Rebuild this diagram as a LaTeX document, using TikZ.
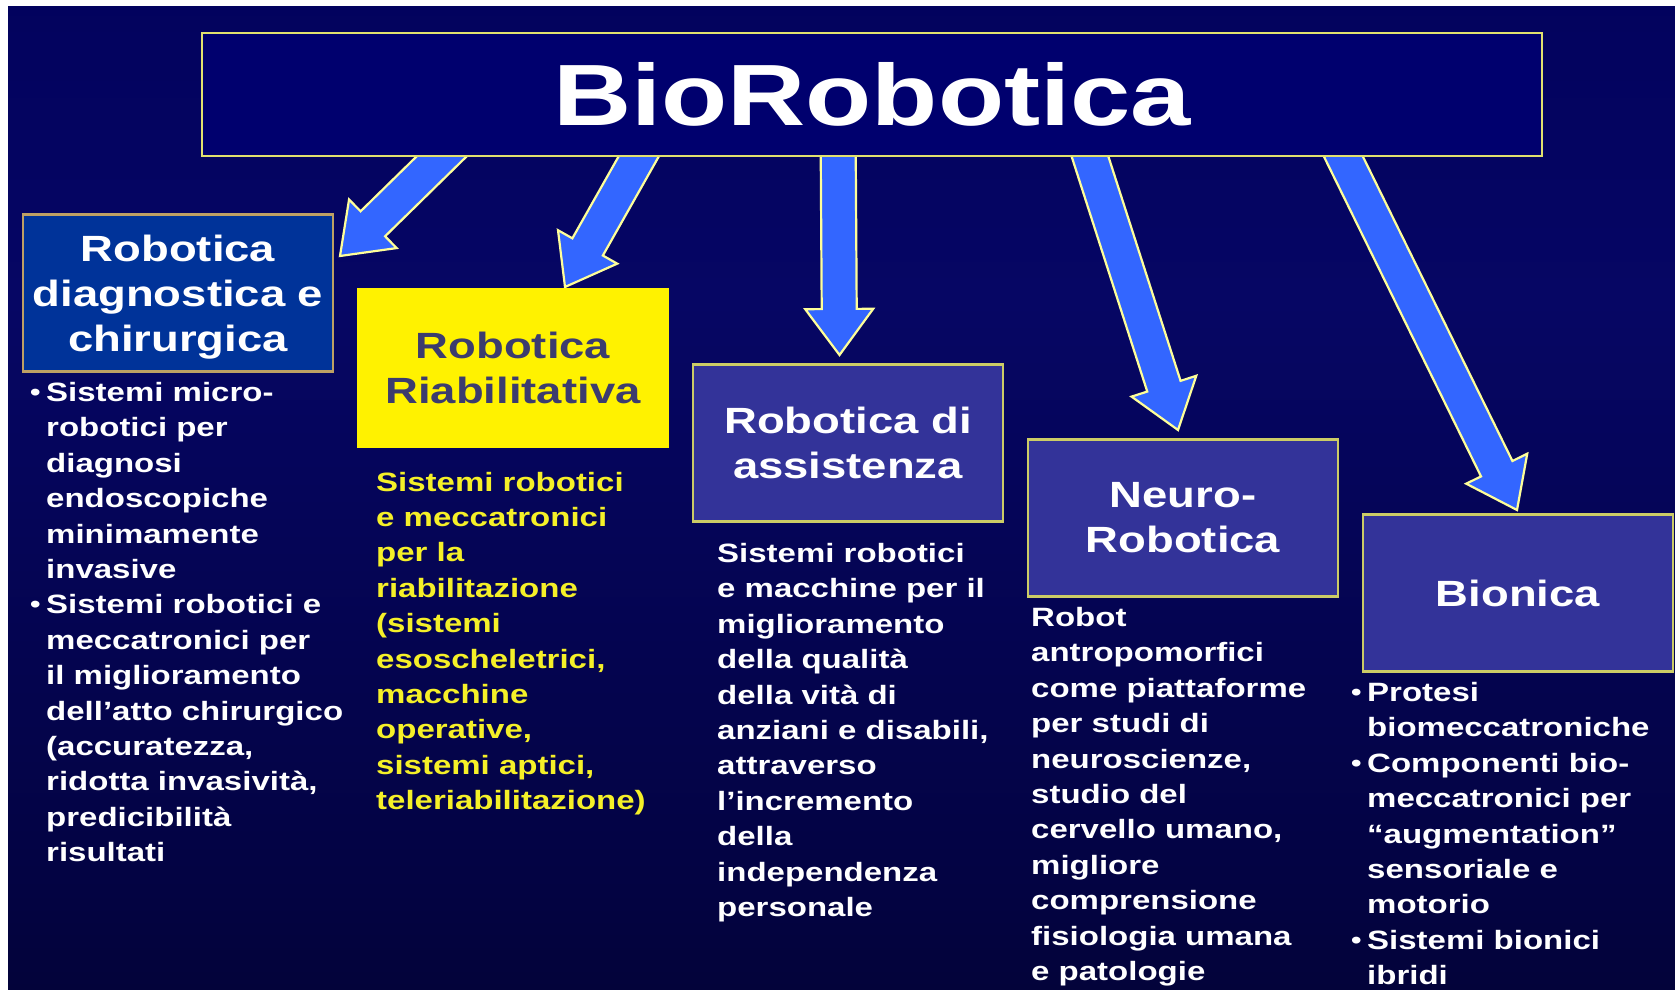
\documentclass[tikz,border=0pt]{standalone}
\usepackage{fontspec}
\setmainfont{Liberation Sans}[FakeStretch=1.245]
\usetikzlibrary{calc,positioning}

\definecolor{bgtop}{RGB}{0,0,40}
\definecolor{bghi}{RGB}{0,0,90}
\definecolor{bgmid}{RGB}{6,6,100}
\definecolor{bglow}{RGB}{3,3,66}
\definecolor{bgbot}{RGB}{0,0,18}
\definecolor{titlefill}{RGB}{0,0,110}
\definecolor{titleline}{RGB}{225,225,110}
\definecolor{boxone}{RGB}{0,51,153}
\definecolor{boxfill}{RGB}{51,51,153}
\definecolor{boxline}{RGB}{204,204,102}
\definecolor{tanline}{RGB}{190,160,100}
\definecolor{arrowfill}{RGB}{51,102,255}
\definecolor{arrowline}{RGB}{255,255,153}
\definecolor{slate}{RGB}{60,60,110}
\definecolor{textyellow}{RGB}{245,240,40}

\pgfdeclarelayer{back}
\pgfdeclarelayer{arrows}
\pgfsetlayers{back,arrows,main}
\pgfdeclareverticalshading{slidebg}{100bp}{color(0bp)=(bgbot); color(30bp)=(bglow);
  color(60bp)=(bgmid); color(85bp)=(bghi); color(100bp)=(bgtop)}

\tikzstyle{catbox}=[draw=boxline, line width=2.5pt, fill=boxfill, text=white,
  minimum width=310pt, minimum height=157pt, inner sep=0pt, outer sep=0pt,
  align=center, font=\bfseries\fontsize{36.5}{45}\selectfont]
\tikzstyle{txt}=[anchor=north west, inner sep=0pt, align=left, text=white,
  font=\bfseries\fontsize{26.5}{35.4}\selectfont]
\tikzstyle{arrowbody}=[draw=arrowline, fill=arrowfill, line width=2.2pt,
  line join=miter]

\newcommand{\bull}{\makebox[16pt][l]{\raisebox{1pt}{\fontsize{24}{24}\selectfont •}}}
\newcommand{\indt}{\hspace*{16pt}}
% block arrow from #1 to the tip #2
\newcommand{\blockarrow}[2]{%
  \coordinate (a0) at ($(#1)!-25pt!(#2)$);
  \coordinate (ah) at ($(#2)!46pt!(#1)$);
  \draw[arrowbody] ($(a0)!17.5pt!90:(#2)$) -- ($(ah)!17.5pt!90:(#2)$)
    -- ($(ah)!34pt!90:(#2)$) -- (#2) -- ($(ah)!34pt!-90:(#2)$)
    -- ($(ah)!17.5pt!-90:(#2)$) -- ($(a0)!17.5pt!-90:(#2)$) -- cycle;}

\begin{document}
\begin{tikzpicture}[x=1pt, y=1pt]
  \useasboundingbox (0,0) rectangle (1675,990);
  \begin{pgfonlayer}{back}
    \fill[white] (0,0) rectangle (1675,990);
    \shade[shading=slidebg] (8,0) rectangle (1675,983);
  \end{pgfonlayer}

  \node[draw=titleline, line width=2.5pt, fill=titlefill, text=white,
    minimum width=1340pt, minimum height=123pt, inner sep=0pt,
    font=\bfseries\fontsize{87}{87}\selectfont] (title) at (872,895.5) {BioRobotica};

  \node[catbox, fill=boxone, draw=tanline] (diag) at (178,697)
    {\rule{0pt}{34pt}Robotica\\diagnostica e\\chirurgica};
  \node[catbox, fill=yellow, draw=yellow, text=slate, right=25pt of diag,
    yshift=-75pt] (riab) {Robotica\\Riabilitativa};
  \node[catbox, right=25pt of riab, yshift=-75pt] (assist) {Robotica di\\assistenza};
  \node[catbox, right=25pt of assist, yshift=-75pt] (neuro) {Neuro-\\Robotica};
  \node[catbox, right=25pt of neuro, yshift=-75pt] (bion) {Bionica};

  % arrows from the title
  \coordinate (s1) at ($(title.south west)+(240,0)$);
  \coordinate (s2) at ($(title.south west)+(437.5,0)$);
  \coordinate (s3) at ($(title.south west)+(637.5,0)$);
  \coordinate (s4) at ($(title.south west)+(889.5,0)$);
  \coordinate (s5) at ($(title.south west)+(1143,0)$);
  \coordinate (t1) at (340,734);
  \coordinate (t2) at (565,703);
  \coordinate (t3) at (839.5,635);
  \coordinate (t4) at (1178,560);
  \coordinate (t5) at (1517,480);
  \begin{pgfonlayer}{arrows}
    \blockarrow{s1}{t1}
    \blockarrow{s2}{t2}
    \blockarrow{s3}{t3}
    \blockarrow{s4}{t4}
    \blockarrow{s5}{t5}
  \end{pgfonlayer}

  \node[txt] (diagtxt) at ($(diag.south west)+(7,-5)$)
    {\strut\bull Sistemi micro-\\
     \indt robotici per\\
     \indt diagnosi\\
     \indt endoscopiche\\
     \indt minimamente\\
     \indt invasive\\
     \bull Sistemi robotici e\\
     \indt meccatronici per\\
     \indt il miglioramento\\
     \indt dell’atto chirurgico\\
     \indt (accuratezza,\\
     \indt ridotta invasività,\\
     \indt predicibilità\\
     \indt risultati};
  \node[txt, text=textyellow] (riabtxt) at ($(riab.south west)+(18,-19.7)$)
    {\strut Sistemi robotici\\
     e meccatronici\\
     per la\\
     riabilitazione\\
     (sistemi\\
     esoscheletrici,\\
     macchine\\
     operative,\\
     sistemi aptici,\\
     teleriabilitazione)};
  \node[txt] (assisttxt) at ($(assist.south west)+(24,-16)$)
    {\strut Sistemi robotici\\
     e macchine per il\\
     miglioramento\\
     della qualità\\
     della vità di\\
     anziani e disabili,\\
     attraverso\\
     l’incremento\\
     della\\
     independenza\\
     personale};
  \node[txt] (neurotxt) at ($(neuro.south west)+(3,-5)$)
    {\strut Robot\\
     antropomorfici\\
     come piattaforme\\
     per studi di\\
     neuroscienze,\\
     studio del\\
     cervello umano,\\
     migliore\\
     comprensione\\
     fisiologia umana\\
     e patologie};
  \node[txt] (biontxt) at ($(bion.south west)+(-12,-5)$)
    {\strut\bull Protesi\\
     \indt biomeccatroniche\\
     \bull Componenti bio-\\
     \indt meccatronici per\\
     \indt “augmentation”\\
     \indt sensoriale e\\
     \indt motorio\\
     \bull Sistemi bionici\\
     \indt ibridi};
\end{tikzpicture}
\end{document}
